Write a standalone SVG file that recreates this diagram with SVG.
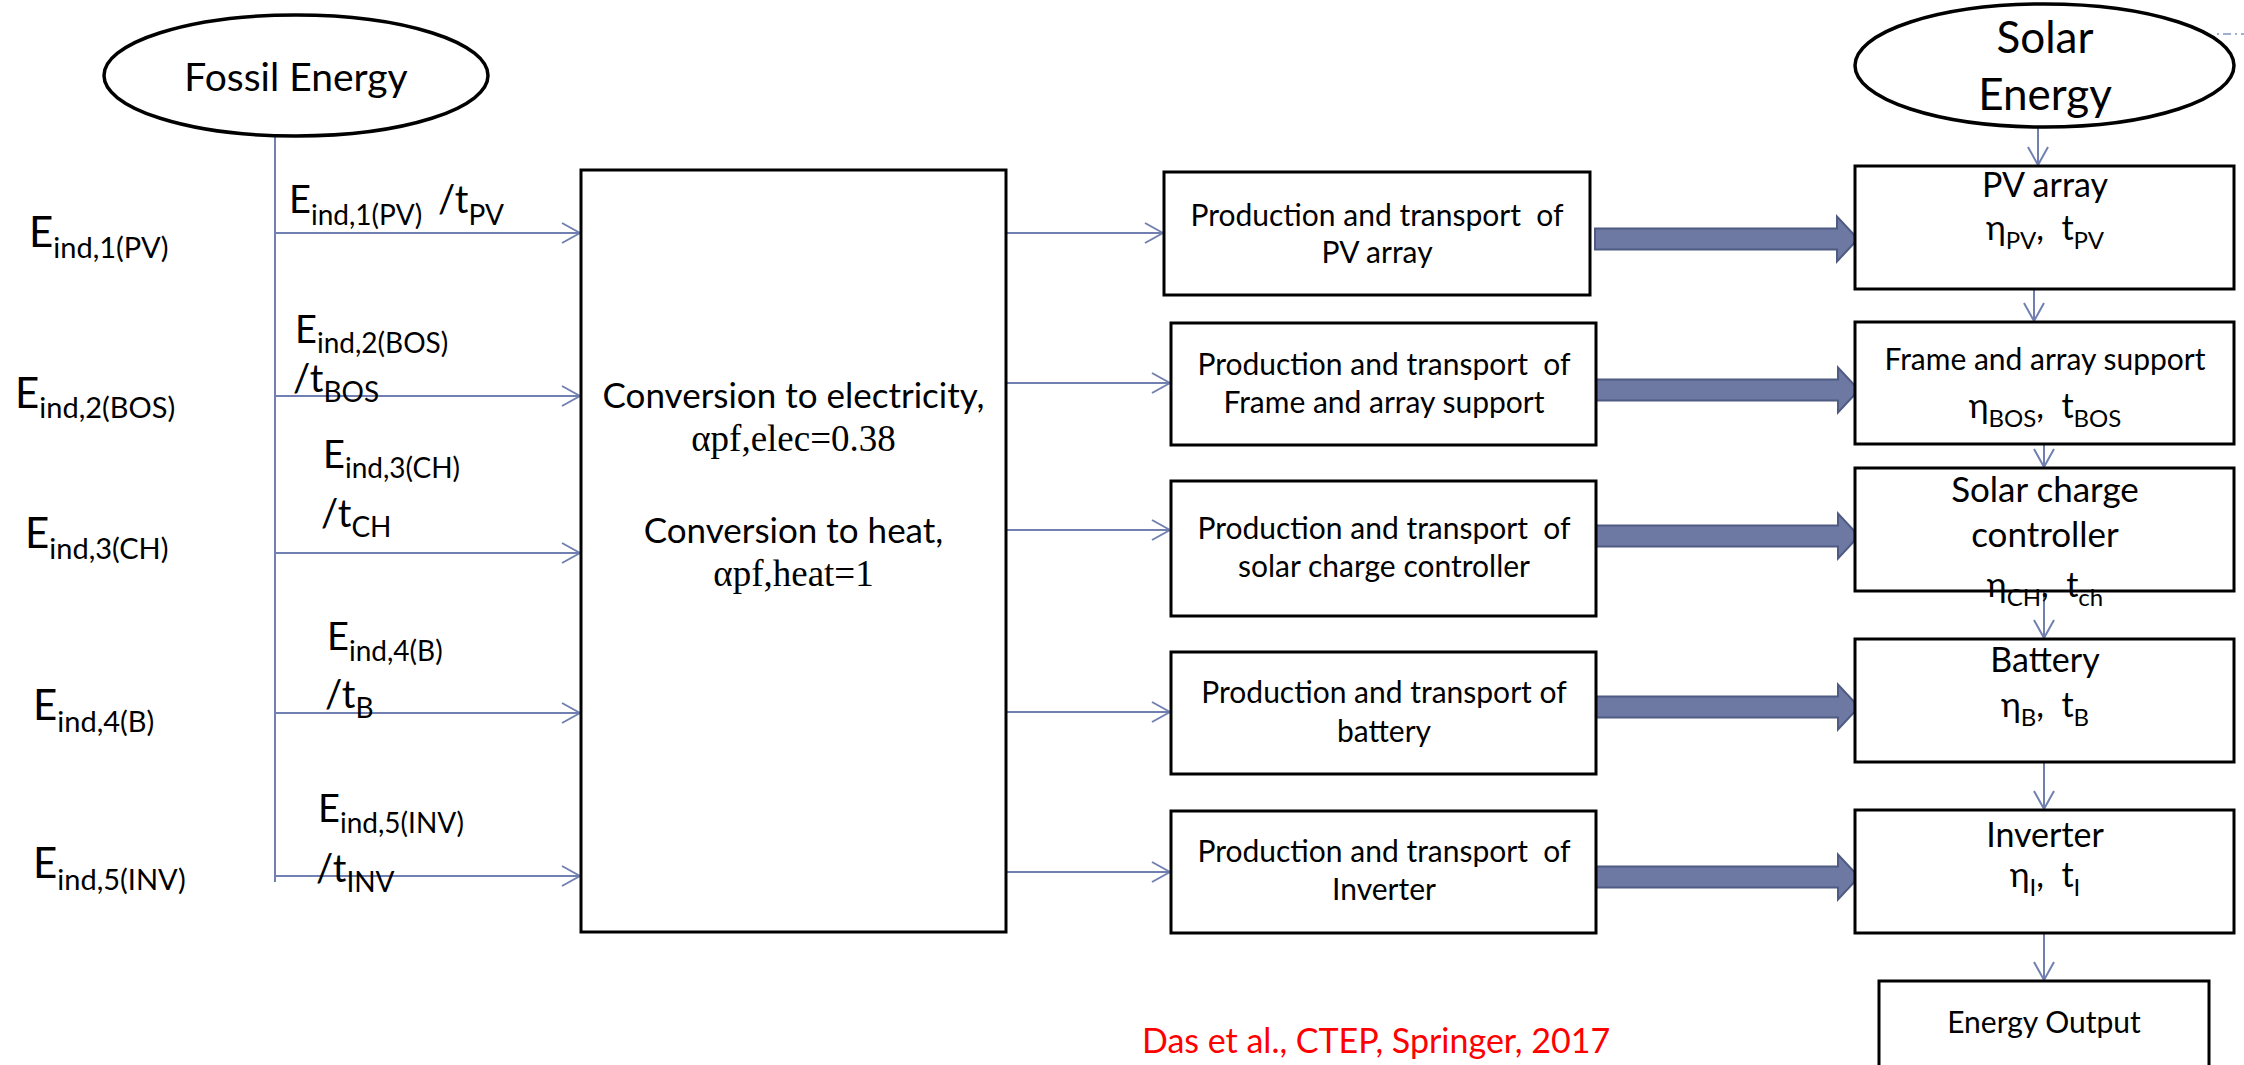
<svg xmlns="http://www.w3.org/2000/svg" width="2244" height="1065" viewBox="0 0 2244 1065">
  <style>
    .t { font-family: Lato, "Open Sans", "Liberation Sans", sans-serif; fill: #000; }
    .ser { font-family: "Liberation Serif", "Times New Roman", serif; fill: #000; }
    .box { fill: #fff; stroke: #000; stroke-width: 3; }
    .oval { fill: #fff; stroke: #000; stroke-width: 3.5; }
    .thin { fill: none; stroke: #7180B0; stroke-width: 2; }
    .fat { fill: #6D79A3; stroke: #4F5B82; stroke-width: 2; }
    .el { font-size: 42px; }
    .es { font-size: 29px; }
    .ul { font-size: 38px; }
    .us { font-size: 28px; }
    .pt { font-size: 30px; }
    .rl { font-size: 34px; }
    .rs { font-size: 24px; }
  </style>
  <defs>
    <marker id="open" viewBox="0 0 20 22" refX="19" refY="11" markerWidth="20" markerHeight="22" markerUnits="userSpaceOnUse" orient="auto">
      <path d="M1,1 L19,11 L1,21" fill="none" stroke="#7180B0" stroke-width="2"/>
    </marker>
    <path id="fatArrow" d="M0,-10.5 L242,-10.5 L242,-22.5 L263,0 L242,22.5 L242,10.5 L0,10.5 Z"/>
  </defs>

  <rect width="2244" height="1065" fill="#fff"/>

  <!-- Connectors -->
  <g id="connectors">
    <!-- fossil energy trunk and feeds into the conversion block -->
    <line class="thin" x1="275" y1="136" x2="275" y2="882"/>
    <line class="thin" x1="275" y1="233" x2="580" y2="233" marker-end="url(#open)"/>
    <line class="thin" x1="275" y1="396" x2="580" y2="396" marker-end="url(#open)"/>
    <line class="thin" x1="275" y1="553" x2="580" y2="553" marker-end="url(#open)"/>
    <line class="thin" x1="275" y1="713" x2="580" y2="713" marker-end="url(#open)"/>
    <line class="thin" x1="275" y1="876" x2="580" y2="876" marker-end="url(#open)"/>
    <!-- conversion block to production boxes -->
    <line class="thin" x1="1006" y1="233" x2="1163" y2="233" marker-end="url(#open)"/>
    <line class="thin" x1="1006" y1="383" x2="1170" y2="383" marker-end="url(#open)"/>
    <line class="thin" x1="1006" y1="530" x2="1170" y2="530" marker-end="url(#open)"/>
    <line class="thin" x1="1006" y1="712" x2="1170" y2="712" marker-end="url(#open)"/>
    <line class="thin" x1="1006" y1="872" x2="1170" y2="872" marker-end="url(#open)"/>
    <!-- block arrows into the solar chain -->
    <use href="#fatArrow" class="fat" transform="translate(1595,239)"/>
    <use href="#fatArrow" class="fat" transform="translate(1596,390)"/>
    <use href="#fatArrow" class="fat" transform="translate(1596,536)"/>
    <use href="#fatArrow" class="fat" transform="translate(1596,707)"/>
    <use href="#fatArrow" class="fat" transform="translate(1596,877)"/>
    <!-- solar chain -->
    <line class="thin" x1="2038" y1="117" x2="2038" y2="165" marker-end="url(#open)"/>
    <line class="thin" x1="2034" y1="282" x2="2034" y2="321" marker-end="url(#open)"/>
    <line class="thin" x1="2044" y1="444" x2="2044" y2="467" marker-end="url(#open)"/>
    <line class="thin" x1="2044" y1="590" x2="2044" y2="638" marker-end="url(#open)"/>
    <line class="thin" x1="2044" y1="762" x2="2044" y2="809" marker-end="url(#open)"/>
    <line class="thin" x1="2044" y1="933" x2="2044" y2="980" marker-end="url(#open)"/>
    <line x1="2217" y1="34" x2="2244" y2="34" stroke="#9DB0CF" stroke-width="2" stroke-dasharray="2 4 8 4"/>
  </g>

  <!-- Fossil energy source -->
  <g id="fossil">
    <ellipse class="oval" cx="296" cy="75.5" rx="192" ry="60.5"/>
    <text class="t" x="296" y="91" font-size="39" text-anchor="middle">Fossil Energy</text>
  </g>

  <!-- Embodied energy labels, left -->
  <g id="labels-left">
    <text class="t el" x="29" y="247">E<tspan class="es" dy="11">ind,1(PV)</tspan></text>
    <text class="t el" x="15" y="408">E<tspan class="es" dy="10">ind,2(BOS)</tspan></text>
    <text class="t el" x="25" y="548">E<tspan class="es" dy="11">ind,3(CH)</tspan></text>
    <text class="t el" x="33" y="720">E<tspan class="es" dy="12">ind,4(B)</tspan></text>
    <text class="t el" x="33" y="878">E<tspan class="es" dy="12">ind,5(INV)</tspan></text>
  </g>

  <!-- Per-lifetime labels on the feed lines -->
  <g id="labels-feed">
    <text class="t ul" x="289" y="213">E<tspan class="us" dy="12">ind,1(PV)</tspan><tspan x="438" dy="-12">/t</tspan><tspan class="us" dy="12">PV</tspan></text>
    <text class="t ul" x="295" y="343">E<tspan class="us" dy="10">ind,2(BOS)</tspan><tspan x="293" y="392">/t</tspan><tspan class="us" dy="10">BOS</tspan></text>
    <text class="t ul" x="323" y="468">E<tspan class="us" dy="10">ind,3(CH)</tspan><tspan x="321" y="527">/t</tspan><tspan class="us" dy="10">CH</tspan></text>
    <text class="t ul" x="327" y="650">E<tspan class="us" dy="11">ind,4(B)</tspan><tspan x="325" y="708">/t</tspan><tspan class="us" dy="10">B</tspan></text>
    <text class="t ul" x="318" y="822">E<tspan class="us" dy="11">ind,5(INV)</tspan><tspan x="316" y="882">/t</tspan><tspan class="us" dy="10">INV</tspan></text>
  </g>

  <!-- Primary energy conversion block -->
  <g id="conversion">
    <rect class="box" x="581" y="170" width="425" height="762"/>
    <text class="t" x="793.5" y="408" font-size="35" text-anchor="middle">Conversion to electricity,</text>
    <text class="ser" x="793.5" y="451" font-size="37" text-anchor="middle">αpf,elec=0.38</text>
    <text class="t" x="793.5" y="543" font-size="35" text-anchor="middle">Conversion to heat,</text>
    <text class="ser" x="793.5" y="586" font-size="37" text-anchor="middle">αpf,heat=1</text>
  </g>

  <!-- Production and transport boxes -->
  <g id="prod-pv">
    <rect class="box" x="1164" y="172" width="426" height="123"/>
    <text class="t pt" x="1377" y="226" text-anchor="middle" xml:space="preserve">Production and transport  of</text>
    <text class="t pt" x="1377" y="263" text-anchor="middle">PV array</text>
  </g>
  <g id="prod-bos">
    <rect class="box" x="1171" y="323" width="425" height="122"/>
    <text class="t pt" x="1384" y="375" text-anchor="middle" xml:space="preserve">Production and transport  of</text>
    <text class="t pt" x="1384" y="413" text-anchor="middle">Frame and array support</text>
  </g>
  <g id="prod-ch">
    <rect class="box" x="1171" y="481" width="425" height="135"/>
    <text class="t pt" x="1384" y="539" text-anchor="middle" xml:space="preserve">Production and transport  of</text>
    <text class="t pt" x="1384" y="577" text-anchor="middle">solar charge controller</text>
  </g>
  <g id="prod-b">
    <rect class="box" x="1171" y="652" width="425" height="122"/>
    <text class="t pt" x="1384" y="703" text-anchor="middle">Production and transport of</text>
    <text class="t pt" x="1384" y="742" text-anchor="middle">battery</text>
  </g>
  <g id="prod-inv">
    <rect class="box" x="1171" y="811" width="425" height="122"/>
    <text class="t pt" x="1384" y="862" text-anchor="middle" xml:space="preserve">Production and transport  of</text>
    <text class="t pt" x="1384" y="900" text-anchor="middle">Inverter</text>
  </g>

  <!-- Solar energy source and system chain -->
  <g id="solar">
    <ellipse class="oval" cx="2044.5" cy="65.5" rx="189.5" ry="61.5"/>
    <text class="t" x="2045" y="53" font-size="44" text-anchor="middle">Solar</text>
    <text class="t" x="2045" y="110" font-size="44" text-anchor="middle">Energy</text>
  </g>
  <g id="pv-array">
    <rect class="box" x="1855" y="166" width="379" height="123"/>
    <text class="t rl" x="2045" y="197" text-anchor="middle">PV array</text>
    <text class="t rl" x="2045" y="240" text-anchor="middle" xml:space="preserve">η<tspan class="rs" dy="9">PV</tspan><tspan dy="-9">,  t</tspan><tspan class="rs" dy="9">PV</tspan></text>
  </g>
  <g id="frame">
    <rect class="box" x="1855" y="322" width="379" height="122"/>
    <text class="t" x="2045" y="370" font-size="30" text-anchor="middle">Frame and array support</text>
    <text class="t rl" x="2045" y="418" text-anchor="middle" xml:space="preserve">η<tspan class="rs" dy="9">BOS</tspan><tspan dy="-9">,  t</tspan><tspan class="rs" dy="9">BOS</tspan></text>
  </g>
  <g id="charge-controller">
    <rect class="box" x="1855" y="468" width="379" height="123"/>
    <text class="t" x="2045" y="502" font-size="35" text-anchor="middle">Solar charge</text>
    <text class="t" x="2045" y="547" font-size="35" text-anchor="middle">controller</text>
    <text class="t rl" x="2045" y="597" text-anchor="middle" xml:space="preserve">η<tspan class="rs" dy="9">CH</tspan><tspan dy="-9">,  t</tspan><tspan class="rs" dy="9">ch</tspan></text>
  </g>
  <g id="battery">
    <rect class="box" x="1855" y="639" width="379" height="123"/>
    <text class="t rl" x="2045" y="672" text-anchor="middle">Battery</text>
    <text class="t rl" x="2045" y="717" text-anchor="middle" xml:space="preserve">η<tspan class="rs" dy="9">B</tspan><tspan dy="-9">,  t</tspan><tspan class="rs" dy="9">B</tspan></text>
  </g>
  <g id="inverter">
    <rect class="box" x="1855" y="810" width="379" height="123"/>
    <text class="t rl" x="2045" y="847" text-anchor="middle">Inverter</text>
    <text class="t rl" x="2045" y="887" text-anchor="middle" xml:space="preserve">η<tspan class="rs" dy="9">I</tspan><tspan dy="-9">,  t</tspan><tspan class="rs" dy="9">I</tspan></text>
  </g>
  <g id="energy-output">
    <rect class="box" x="1879" y="981" width="330" height="95"/>
    <text class="t" x="2044" y="1033" font-size="30" text-anchor="middle">Energy Output</text>
  </g>

  <!-- Source citation -->
  <text class="t" x="1142" y="1053" font-size="34" fill="#FF0000" style="fill:#FF0000">Das et al., CTEP, Springer, 2017</text>
</svg>
